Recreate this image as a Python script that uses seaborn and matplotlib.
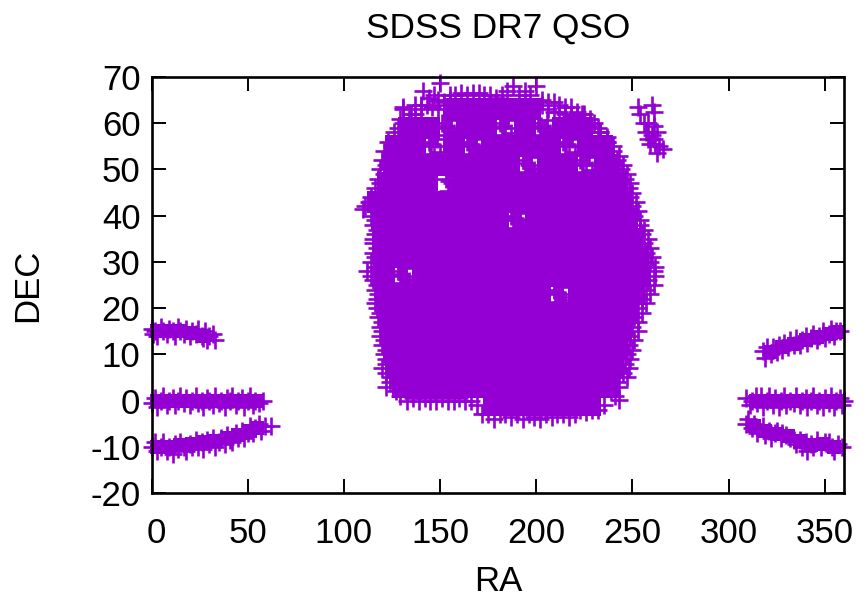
"""
SDSS DR7 QSO sky positions, read off the picture
"""
import matplotlib
matplotlib.use("Agg")
import matplotlib.pyplot as plt
import matplotlib.transforms as mtrans
import pandas as pd
import seaborn as sns

x_ticks = [0, 50, 100, 150, 200, 250, 300, 350]
y_ticks = [-20, -10, 0, 10, 20, 30, 40, 50, 60, 70]
y_tick_labels = ["-20", "-10", "0", "10", "20", "30", "40", "50", "60", "70"]

# dense middle of the footprint, one RA list per DEC row
core_dec = [63, 59, 55, 51, 47, 43, 39, 35, 31, 27, 23, 19, 15, 11, 7, 3, -1]
core_ra = [
    [157, 167, 177, 187, 197],
    [134, 144, 164, 174, 194, 214, 224],
    [127, 137, 157, 177, 187, 197, 207, 227, 234],
    [126, 136, 146, 156, 166, 176, 186, 206, 216, 236, 238],
    [123, 133, 143, 163, 173, 183, 193, 203, 213, 223, 233, 242],
    [118, 128, 138, 148, 158, 168, 178, 188, 198, 208, 218, 228, 238, 244],
    [120, 130, 140, 150, 160, 170, 180, 200, 210, 220, 230, 240, 247],
    [121, 131, 141, 151, 161, 171, 181, 191, 201, 211, 221, 231, 241, 250],
    [121, 131, 141, 151, 161, 171, 181, 191, 201, 211, 221, 231, 241, 251, 253],
    [121, 141, 151, 161, 171, 181, 191, 201, 211, 221, 231, 241, 251, 254],
    [122, 132, 142, 152, 162, 172, 182, 192, 202, 222, 232, 242, 251],
    [124, 134, 144, 154, 164, 174, 184, 194, 204, 214, 224, 234, 244, 247],
    [125, 135, 145, 155, 165, 175, 185, 195, 205, 215, 225, 235, 244],
    [126, 136, 146, 156, 166, 176, 186, 196, 206, 216, 226, 236, 242],
    [128, 138, 148, 158, 168, 178, 188, 198, 208, 218, 228, 238, 240],
    [131, 141, 151, 161, 171, 181, 191, 201, 211, 221, 231, 237],
    [178, 188, 198, 208, 218, 228],
]

left_dec = [64, 63, 62, 61, 60, 59, 58, 57, 56, 55, 54, 53, 52, 51, 50, 49, 48, 47, 46, 45, 44, 43,
            42, 41.5, 40, 39, 38, 37, 36, 35, 34, 33, 32, 31, 30, 29, 28, 27, 26, 25, 24, 23, 22, 21,
            20, 19, 18, 17, 16, 15, 14, 13, 12, 11, 10, 9, 8, 7, 6, 5, 4, 3, 2, 1]
left_ra = [140, 131, 135, 129, 131, 128, 126, 129, 123, 125, 121, 124, 120, 122, 119, 121, 118, 119,
           116, 118, 114, 113, 111, 110, 114, 116, 115, 117, 116, 115, 115, 117, 115, 116, 114, 116,
           112, 114, 115, 117, 116, 118, 117, 116, 117, 119, 118, 120, 119, 120, 119, 121, 120, 122,
           121, 122, 122, 120, 122, 124, 124, 122, 127, 129]

right_dec = [62, 61, 60, 59, 58, 57, 56, 55, 54, 53, 52, 51, 50, 49, 48, 47, 46, 45, 44, 43, 42, 41,
             40, 39, 38, 37, 36, 35, 34, 33, 32, 31, 30, 29, 28, 27, 26, 25, 24, 23, 22, 21, 20, 19,
             18, 17, 16, 15, 14, 13, 12, 11, 10, 9, 8, 7, 6, 5, 4, 3, 2, 1, 0.2]
right_ra = [224, 228, 228, 232, 233, 237, 237, 240, 240, 243, 242, 245, 244, 247, 246, 249, 248, 250,
            249, 252, 250, 253, 251, 254, 254, 256, 255, 258, 256, 259, 257, 260, 259, 262, 261, 262,
            258, 261, 257, 259, 255, 257, 253, 255, 251, 253, 250, 253, 249, 251, 248, 250, 247, 249,
            246, 248, 245, 247, 242, 243, 239, 241, 243]

top_ra = [131, 137, 141, 144, 147, 150, 149, 152, 155, 158, 161, 164, 167, 170, 173, 176, 179, 182,
          185, 188, 191, 194, 197, 200, 203, 206, 209, 212, 215, 218, 221, 225, 230, 233, 237,
          134, 137, 140, 143, 146, 149, 152, 155, 203, 206, 209, 212, 215, 218, 221, 224, 227]
top_dec = [63.5, 62, 67, 65.5, 66, 68.7, 63, 64, 66, 66, 66.5, 66, 66.5, 66.5, 66, 66, 65.5, 66,
           67, 68, 66, 67, 66, 68, 65, 64.5, 64.5, 64, 63.5, 63.5, 62.5, 62, 60, 58, 56,
           61, 64, 63, 64, 63.5, 65, 64.5, 65, 64, 63, 62.5, 62.5, 62, 61.5, 61.5, 60.5, 59.5]

bottom_ra = [133, 136, 139, 142, 145, 148, 151, 154, 157, 160, 163, 166, 169, 172, 175, 178, 181,
             184, 187, 190, 193, 196, 199, 202, 205, 208, 211, 214, 217, 220, 223, 226, 229, 232, 235]
bottom_dec = [0, 0.5, 0, 0.5, 0, 0, 0.5, 0, 0, 0.5, 0, 0, -1, -3, -3, -4, -3, -3, -3.5, -3, -4, -3,
              -3.5, -4, -3, -3.5, -3, -3, -3.5, -3, -2, -2.5, -2, -2, -1]

# looser spots inside the footprint where the paper shows through
inner_ra = [151, 154, 157, 152, 155.5, 152.5, 155.5,
            181, 184, 187, 182, 185.5, 182.5,
            201, 204, 207, 202, 205.5, 202.5, 205.5,
            144, 147, 150, 145, 148.5, 145.5,
            164, 167, 170, 165, 168.5, 165.5, 168.5,
            214, 217, 220, 215, 218.5, 215.5,
            193, 196, 199, 194, 197.5, 194.5, 197.5,
            223, 226, 229, 224, 227.5, 224.5,
            153, 156, 159, 154, 157.5, 154.5, 157.5,
            187, 190, 193, 188, 191.5, 188.5, 191.5,
            128, 131, 134, 129, 132.5, 129.5, 132.5,
            209, 212, 215, 210, 213.5, 210.5, 213.5]
inner_dec = [60, 59, 57.8, 57.4, 60.6, 59.4, 58.4,
             60, 59, 57.8, 57.4, 60.6, 59.4,
             60, 59, 57.8, 57.4, 60.6, 59.4, 58.4,
             56, 55, 53.8, 53.4, 56.6, 55.4,
             56, 55, 53.8, 53.4, 56.6, 55.4, 54.4,
             56, 55, 53.8, 53.4, 56.6, 55.4,
             52, 51, 49.8, 49.4, 52.6, 51.4, 50.4,
             52, 51, 49.8, 49.4, 52.6, 51.4,
             48, 47, 45.8, 45.4, 48.6, 47.4, 46.4,
             40, 39, 37.8, 37.4, 40.6, 39.4, 38.4,
             28, 27, 25.8, 25.4, 28.6, 27.4, 26.4,
             24, 23, 21.8, 21.4, 24.6, 23.4, 22.4]

patch_ra = [253, 260, 261, 254, 256, 258, 261, 257, 260, 258, 263, 259, 261, 262, 263, 266, 264]
patch_dec = [63.5, 64, 62.5, 62, 60, 60, 59.5, 58, 57.5, 56.5, 58, 55.5, 56.5, 55.5, 53.5, 54.5, 55]

# equatorial stripes on both sides
band_a_ra = [0, 1, 2, 3, 5, 6, 8, 9, 11, 12, 14, 15, 17, 18, 20, 21, 23, 24, 26, 27, 28, 29, 30, 32, 33]
band_a_dec = [15.5, 14.5, 15, 14, 16, 15, 14.5, 15.5, 15, 14, 16, 15, 14.5, 15.5, 14, 15, 14.5, 15.5,
              14, 13.5, 15, 13, 14, 14.5, 13]
band_b_ra = [0, 2, 3, 5, 6, 8, 9, 11, 12, 14, 15, 17, 18, 20, 21, 23, 24, 26, 27, 29, 30, 32, 33, 35,
             36, 38, 39, 41, 42, 44, 45, 47, 48, 50, 51, 53, 54, 56, 58]
band_b_dec = [-0.5, 0.5, -1.5, 0, 1, -1, 0, 0.5, -1, 0, 1, -0.5, 0.5, -1, 0, 1, -0.5, 0, -1.5, 0.5,
              0, -1, 1, -0.5, 0, -1.5, 0.5, 0, 1, -1, 0, 0.5, -1.5, 0, 1, -1, 0, -0.5, 0]
band_c_ra = [0, 2, 3, 5, 6, 8, 9, 11, 12, 14, 15, 17, 18, 20, 21, 23, 24, 26, 27, 29, 30, 32, 33, 35,
             36, 38, 39, 41, 42, 44, 45, 47, 48, 50, 51, 53, 54, 56, 57, 59, 62]
band_c_dec = [-10, -9, -11, -10, -9, -11, -10, -11.5, -9.5, -10.5, -9, -10, -11, -9.5, -10, -8.5, -10,
              -9, -10.5, -8.5, -9.5, -8, -10, -9, -8, -9.5, -7.5, -8.5, -9, -7, -8, -6.5, -8, -7,
              -5.5, -7, -6, -5, -6.5, -5.5, -5.5]
band_d_ra = [318, 319, 320, 322, 323, 325, 326, 328, 329, 331, 332, 334, 335, 337, 338, 340, 341, 343,
             344, 346, 347, 349, 350, 352, 353, 355, 356, 358]
band_d_dec = [10.8, 9.3, 11.5, 10, 11.5, 10.5, 12, 11, 12.5, 11.5, 13, 12, 13.5, 12, 13, 14, 12.5, 13.5,
              14.5, 13, 14, 15, 13.5, 14.5, 15.5, 14, 15, 15]
band_e_ra = [309, 311, 312, 314, 315, 317, 318, 320, 321, 323, 324, 326, 327, 329, 330, 332, 334, 335,
             337, 338, 340, 341, 343, 344, 346, 347, 349, 350, 352, 353, 355, 356, 358, 359, 360]
band_e_dec = [0.5, -1, 0, 1, -0.5, 1, -1.5, 0, 1, -1, 0.5, -1.5, 0, 1, -1, 0, -0.5, 1, -1, 0, 0.5,
              -1.5, 0, 1, -1, 0, -1.5, 0.5, -0.5, 1, -1.5, 0, 0.5, -1, 0]
band_f_ra = [309, 310, 312, 313, 315, 316, 318, 319, 321, 322, 324, 325, 327, 328, 330, 332, 334, 335,
             337, 338, 340, 341, 343, 344, 346, 348, 350, 352, 354, 355, 357, 359]
band_f_dec = [-5, -4, -6, -5, -7, -6, -5.5, -7.5, -6.5, -8, -7, -6.5, -8, -7, -7.5, -8, -8.5, -9.5,
              -8.5, -10, -9, -11, -9.5, -10, -8.5, -10, -9, -9, -10, -11, -9.5, -10]

# solid middle of each stripe
stripe_ra = [3, 9, 15, 21, 27,
             3, 9, 15, 21, 27, 33, 39, 45, 51, 55,
             3, 9, 15, 21, 27, 33, 39, 45, 51, 55,
             322, 328, 334, 340, 346, 352, 357,
             314, 320, 326, 332, 338, 344, 350, 356,
             313, 319, 325, 331, 337, 343, 349, 355]
stripe_dec = [15, 15, 15, 14.7, 14,
              0, 0, 0, 0, 0, 0, 0, 0, 0, 0,
              -10, -10, -9.7, -9.3, -9, -8.7, -8, -7.5, -6.5, -6,
              10.5, 11.5, 12.3, 13, 13.8, 14.5, 14.8,
              0, 0, 0, 0, 0, 0, 0, 0,
              -5.5, -6.5, -7.2, -7.6, -8.8, -9.7, -9.5, -10]

thin_ra = (left_ra + right_ra + top_ra + bottom_ra + inner_ra + patch_ra + band_a_ra + band_b_ra
           + band_c_ra + band_d_ra + band_e_ra + band_f_ra)
thin_dec = (left_dec + right_dec + top_dec + bottom_dec + inner_dec + patch_dec + band_a_dec + band_b_dec
            + band_c_dec + band_d_dec + band_e_dec + band_f_dec)

rows = []
for dec, ras in zip(core_dec, core_ra):
    for ra in ras:
        rows.append([ra, dec])
df_core = pd.DataFrame(rows, columns=["RA", "DEC"])
df_stripe = pd.DataFrame({"RA": stripe_ra, "DEC": stripe_dec})
df_thin = pd.DataFrame({"RA": thin_ra, "DEC": thin_dec})

sns.set_theme(style="ticks")
plt.rcParams["font.family"] = ["Liberation Sans", "DejaVu Sans"]

violet = "#9400d3"
fig = plt.figure(figsize=(8.63, 6.01), dpi=100)
ax = fig.add_axes([151.5 / 863, 108 / 601, 692.5 / 863, 416 / 601])
ax.set_axisbelow(True)

sns.scatterplot(data=df_core, x="RA", y="DEC", marker="s", s=251, color=violet, linewidth=0,
                clip_on=False, zorder=2, ax=ax)
sns.scatterplot(data=df_stripe, x="RA", y="DEC", marker="s", s=88, color=violet, linewidth=0,
                clip_on=False, zorder=2, ax=ax)
sns.scatterplot(data=df_thin, x="RA", y="DEC", marker="+", s=150, color=violet, linewidth=1.9,
                clip_on=False, zorder=2, ax=ax)

ax.set_xlim(0, 360)
ax.set_ylim(-20, 70)
ax.set_xticks(x_ticks)
ax.set_yticks(y_ticks)
ax.set_yticklabels(y_tick_labels)
ax.tick_params(direction="in", top=True, right=True, length=10, width=1.4, labelsize=25, colors="black", pad=8)
ax.tick_params(axis="x", pad=17)
for s in ax.spines.values():
    s.set_visible(True)
    s.set_linewidth(1.9)
    s.set_color("black")

ax.set_title("SDSS DR7 QSO", fontsize=25.4, color="black", pad=28.5)
ax.set_xlabel("RA", fontsize=25, color="black", labelpad=11)
ax.set_ylabel("DEC", fontsize=25, color="black")
ax.yaxis.set_label_coords(-0.155, 0.5)

# gnuplot pushes the first label slightly right
first = ax.get_xticklabels()[0]
first.set_transform(first.get_transform() + mtrans.ScaledTranslation(5 / 100, 0, fig.dpi_scale_trans))

fig.savefig("out.png", dpi=100)
